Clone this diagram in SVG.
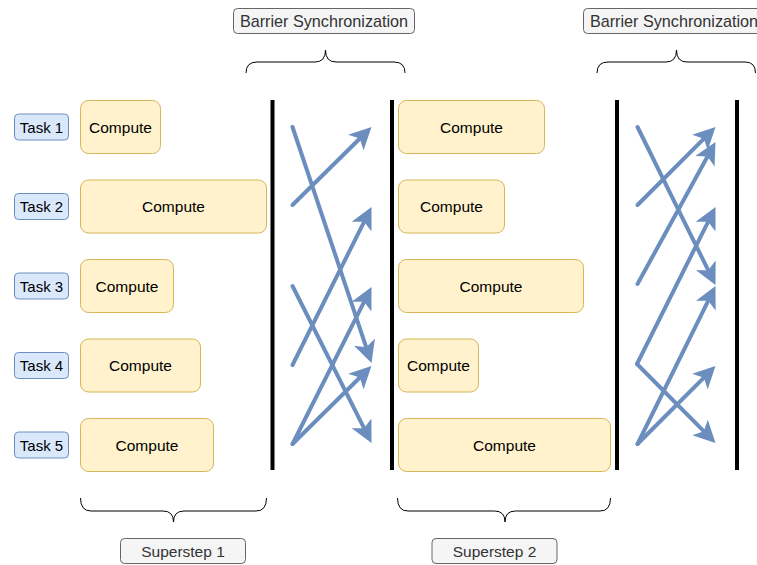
<svg xmlns="http://www.w3.org/2000/svg" width="757" height="565" viewBox="0 0 757 565">
<defs>
<style>
text{font-family:"Liberation Sans",Arial,Helvetica,sans-serif;text-anchor:middle;dominant-baseline:central}
.task rect{fill:#dae8fc;stroke:#6c8ebf;stroke-width:1}
.task text{font-size:15px;fill:#000}
.comp rect{fill:#fff2cc;stroke:#d6b656;stroke-width:1}
.comp text{font-size:15.5px;fill:#000}
.lbl rect{fill:#f5f5f5;stroke:#666666;stroke-width:1}
.lbl text{font-size:15.5px;fill:#333333}
.bar{stroke:#000;stroke-width:4}
.brace{fill:none;stroke:#000;stroke-width:1}
.edge{stroke:#6c8ebf;stroke-width:4;fill:none;stroke-linecap:round;marker-end:url(#ah)}
</style>
<marker id="ah" markerUnits="userSpaceOnUse" viewBox="0 0 22 22" markerWidth="22" markerHeight="22" refX="6" refY="11" orient="auto">
<path d="M0,0 L22,11 L0,22 L5.5,11 Z" fill="#6c8ebf"/>
</marker>
</defs>

<g id="task1" class="task"><rect x="14.5" y="114" width="54" height="26" rx="4"/><text x="41.5" y="127">Task 1</text></g>
<g id="task2" class="task"><rect x="14.5" y="193.5" width="54" height="26" rx="4"/><text x="41.5" y="206.5">Task 2</text></g>
<g id="task3" class="task"><rect x="14.5" y="273" width="54" height="26" rx="4"/><text x="41.5" y="286">Task 3</text></g>
<g id="task4" class="task"><rect x="14.5" y="352.5" width="54" height="26" rx="4"/><text x="41.5" y="365.5">Task 4</text></g>
<g id="task5" class="task"><rect x="14.5" y="432" width="54" height="26" rx="4"/><text x="41.5" y="445">Task 5</text></g>

<g id="c1_1" class="comp"><rect x="80.5" y="100.5" width="80" height="53" rx="8"/><text x="120.5" y="127">Compute</text></g>
<g id="c1_2" class="comp"><rect x="80.5" y="180" width="186" height="53" rx="8"/><text x="173.5" y="206.5">Compute</text></g>
<g id="c1_3" class="comp"><rect x="80.5" y="259.5" width="93" height="53" rx="8"/><text x="127" y="286">Compute</text></g>
<g id="c1_4" class="comp"><rect x="80.5" y="339" width="120" height="53" rx="8"/><text x="140.5" y="365.5">Compute</text></g>
<g id="c1_5" class="comp"><rect x="80.5" y="418.5" width="133" height="53" rx="8"/><text x="147" y="445">Compute</text></g>

<g id="c2_1" class="comp"><rect x="398.5" y="100.5" width="146" height="53" rx="8"/><text x="471.5" y="127">Compute</text></g>
<g id="c2_2" class="comp"><rect x="398.5" y="180" width="106" height="53" rx="8"/><text x="451.5" y="206.5">Compute</text></g>
<g id="c2_3" class="comp"><rect x="398.5" y="259.5" width="185" height="53" rx="8"/><text x="491" y="286">Compute</text></g>
<g id="c2_4" class="comp"><rect x="398.5" y="339" width="80" height="53" rx="8"/><text x="438.5" y="365.5">Compute</text></g>
<g id="c2_5" class="comp"><rect x="398.5" y="418.5" width="212" height="53" rx="8"/><text x="504.5" y="445">Compute</text></g>

<g id="barriers">
<line class="bar" x1="272.5" y1="100" x2="272.5" y2="470"/>
<line class="bar" x1="392" y1="100" x2="392" y2="470"/>
<line class="bar" x1="617" y1="100" x2="617" y2="470"/>
<line class="bar" x1="737" y1="100" x2="737" y2="470"/>
</g>

<g id="braces">
<path class="brace" d="M246,73 Q246,62 257,62 L315,62 Q325.5,62 325.5,50 Q325.5,62 336,62 L394,62 Q405,62 405,73"/>
<path class="brace" d="M597,73 Q597,62 608,62 L666,62 Q676.5,62 676.5,50 Q676.5,62 687,62 L745,62 Q755.5,62 755.5,73"/>
<path class="brace" d="M80.5,498 Q80.5,511 91,511 L163,511 Q173.5,511 173.5,522 Q173.5,511 184,511 L256,511 Q266.5,511 266.5,498"/>
<path class="brace" d="M397.5,498 Q397.5,511 408,511 L494.5,511 Q505,511 505,522 Q505,511 515.5,511 L600,511 Q610.5,511 610.5,498"/>
</g>

<g id="barrier1" class="lbl"><rect x="233.5" y="8.5" width="181" height="25" rx="4"/><text x="324" y="21" style="font-size:16.2px">Barrier Synchronization</text></g>
<g id="barrier2" class="lbl"><rect x="583.5" y="8.5" width="181" height="25" rx="4"/><text x="674" y="21" style="font-size:16.2px">Barrier Synchronization</text></g>
<g id="superstep1" class="lbl"><rect x="120.5" y="538.5" width="125" height="25" rx="4"/><text x="183" y="551">Superstep 1</text></g>
<g id="superstep2" class="lbl"><rect x="432" y="538.5" width="125" height="25" rx="4"/><text x="494.5" y="551">Superstep 2</text></g>

<g id="connectors">
<line class="edge" x1="292.5" y1="127" x2="366.42" y2="347.83"/>
<line class="edge" x1="292.5" y1="205" x2="360.11" y2="138.24"/>
<line class="edge" x1="292.5" y1="365" x2="364.34" y2="221.31"/>
<line class="edge" x1="292.5" y1="286" x2="364.31" y2="428.71"/>
<line class="edge" x1="292.5" y1="444" x2="364.31" y2="301.29"/>
<line class="edge" x1="292.5" y1="444" x2="360.11" y2="377.24"/>
<line class="edge" x1="637.5" y1="127" x2="708.42" y2="270.65"/>
<line class="edge" x1="637.5" y1="205" x2="704.19" y2="138.31"/>
<line class="edge" x1="637.5" y1="284" x2="707.8" y2="156.02"/>
<line class="edge" x1="637" y1="364" x2="708.34" y2="221.31"/>
<line class="edge" x1="637" y1="364" x2="704.22" y2="431.65"/>
<line class="edge" x1="637.5" y1="444" x2="708.42" y2="300.35"/>
<line class="edge" x1="637.5" y1="444" x2="704.19" y2="377.31"/>
</g>
</svg>
